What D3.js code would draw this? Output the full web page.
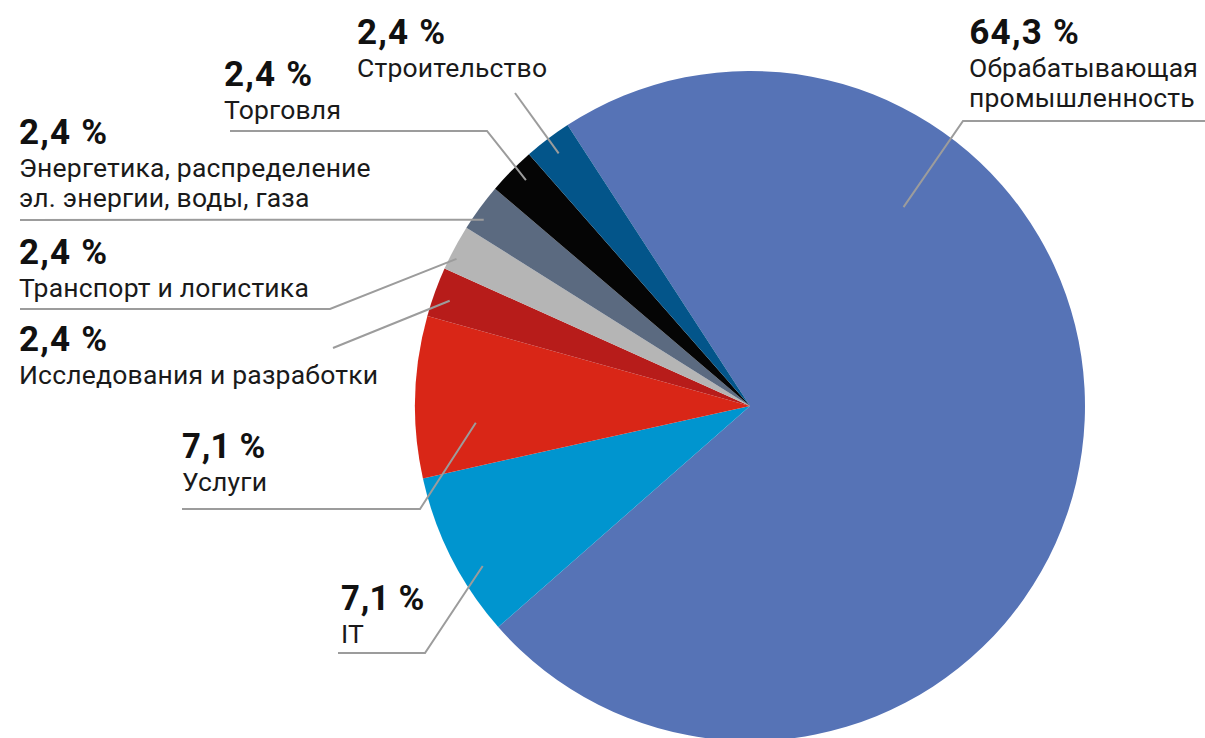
<!DOCTYPE html>
<html>
<head>
<meta charset="utf-8">
<script src="https://cdn.jsdelivr.net/npm/d3@7"></script>
<style>
    body { margin: 0; background: #fff; }
    .pct { font-family: Roboto, sans-serif; font-weight: 700; font-size: 35px; letter-spacing: 1.2px; fill: #111;
           font-variant-numeric: proportional-nums; }
    .name { font-family: Roboto, sans-serif; font-weight: 400; font-size: 26.5px; letter-spacing: 0.2px; fill: #1a1a1a; }
    .leader { fill: none; stroke: #9c9c9c; stroke-width: 2; }
</style>
</head>
<body>
<script>
(function() {
    var w = 1205,
        h = 738;

    // sectors, clockwise from the top-left edge of the big slice
    var sectors = ['Обрабатывающая промышленность', 'IT', 'Услуги', 'Исследования и разработки',
        'Транспорт и логистика', 'Энергетика, распределение эл. энергии, воды, газа', 'Торговля', 'Строительство'];
    var labels = ['64,3 %', '7,1 %', '7,1 %', '2,4 %', '2,4 %', '2,4 %', '2,4 %', '2,4 %'];
    // slice sizes as drawn in the picture (%)
    var shares = [72.7, 8.0, 7.8, 2.4, 2.2, 2.3, 2.3, 2.3];
    var colors = ['#5673b6', '#0095cf', '#d92617', '#b71c1a', '#b5b5b5', '#5b6a80', '#050505', '#03558a'];

    // label layout: text lines, text origin, leader points before the anchor,
    // anchor as fraction along the slice (t) and of the radius (rf)
    var layout = [
        {lines: ['Обрабатывающая', 'промышленность'], x: 969, y: 44, pts: [[1205, 121], [963, 121]], t: 0.27, rf: 0.75},
        {lines: ['IT'], x: 341, y: 610, pts: [[338, 653], [425, 653]], t: 0.36, rf: 0.93},
        {lines: ['Услуги'], x: 182, y: 458, pts: [[182, 509], [420, 509]], t: 0.32, rf: 0.82},
        {lines: ['Исследования и разработки'], x: 19, y: 351, pts: [[333, 348]], t: 0.43, rf: 0.95},
        {lines: ['Транспорт и логистика'], x: 19, y: 264, pts: [[20, 309], [330, 309]], t: 0.3, rf: 0.98},
        {lines: ['Энергетика, распределение', 'эл. энергии, воды, газа'], x: 19, y: 144, pts: [[20, 220]], t: 0.34, rf: 0.97},
        {lines: ['Торговля'], x: 224, y: 86, pts: [[230, 131], [487, 131]], t: 0.58, rf: 0.95},
        {lines: ['Строительство'], x: 357, y: 44, pts: [[515, 93]], t: 0.5, rf: 0.946}
    ];

    var cx = 750,
        cy = 406,
        r = 335,
        start = -33 * Math.PI / 180;

    var svg = d3.select('body')
        .append('svg')
        .attr('width', w)
        .attr('height', h);

    var pie = d3.pie()
        .sort(null)
        .value(function(d) { return d; })
        .startAngle(start)
        .endAngle(start + 2 * Math.PI);
    var arcs = pie(shares);
    var arc = d3.arc().innerRadius(0).outerRadius(r);

    var g = svg.append('g')
        .attr('transform', 'translate(' + cx + ',' + cy + ')');
    g.selectAll('path.slice')
        .data(arcs)
        .enter()
        .append('path')
        .attr('class', 'slice')
        .attr('d', arc)
        .attr('fill', function(d, i) { return colors[i]; });

    // leader lines
    var line = d3.line();
    svg.selectAll('path.leader')
        .data(arcs)
        .enter()
        .append('path')
        .attr('class', 'leader')
        .attr('d', function(d, i) {
            var L = layout[i];
            var a = d.startAngle + (d.endAngle - d.startAngle) * L.t;
            var rr = r * L.rf;
            var anchor = [cx + rr * Math.sin(a), cy - rr * Math.cos(a)];
            return line(L.pts.concat([anchor]));
        });

    // labels
    var lab = svg.selectAll('g.label')
        .data(sectors)
        .enter()
        .append('g')
        .attr('class', 'label')
        .attr('transform', function(d, i) { return 'translate(' + layout[i].x + ',' + layout[i].y + ')'; });
    lab.append('text')
        .attr('class', 'pct')
        .text(function(d, i) { return labels[i]; });
    lab.each(function(d, i) {
        var sel = d3.select(this);
        layout[i].lines.forEach(function(s, k) {
            sel.append('text')
                .attr('class', 'name')
                .attr('y', 33 + k * 30)
                .text(s);
        });
    });
})();
</script>
</body>
</html>
